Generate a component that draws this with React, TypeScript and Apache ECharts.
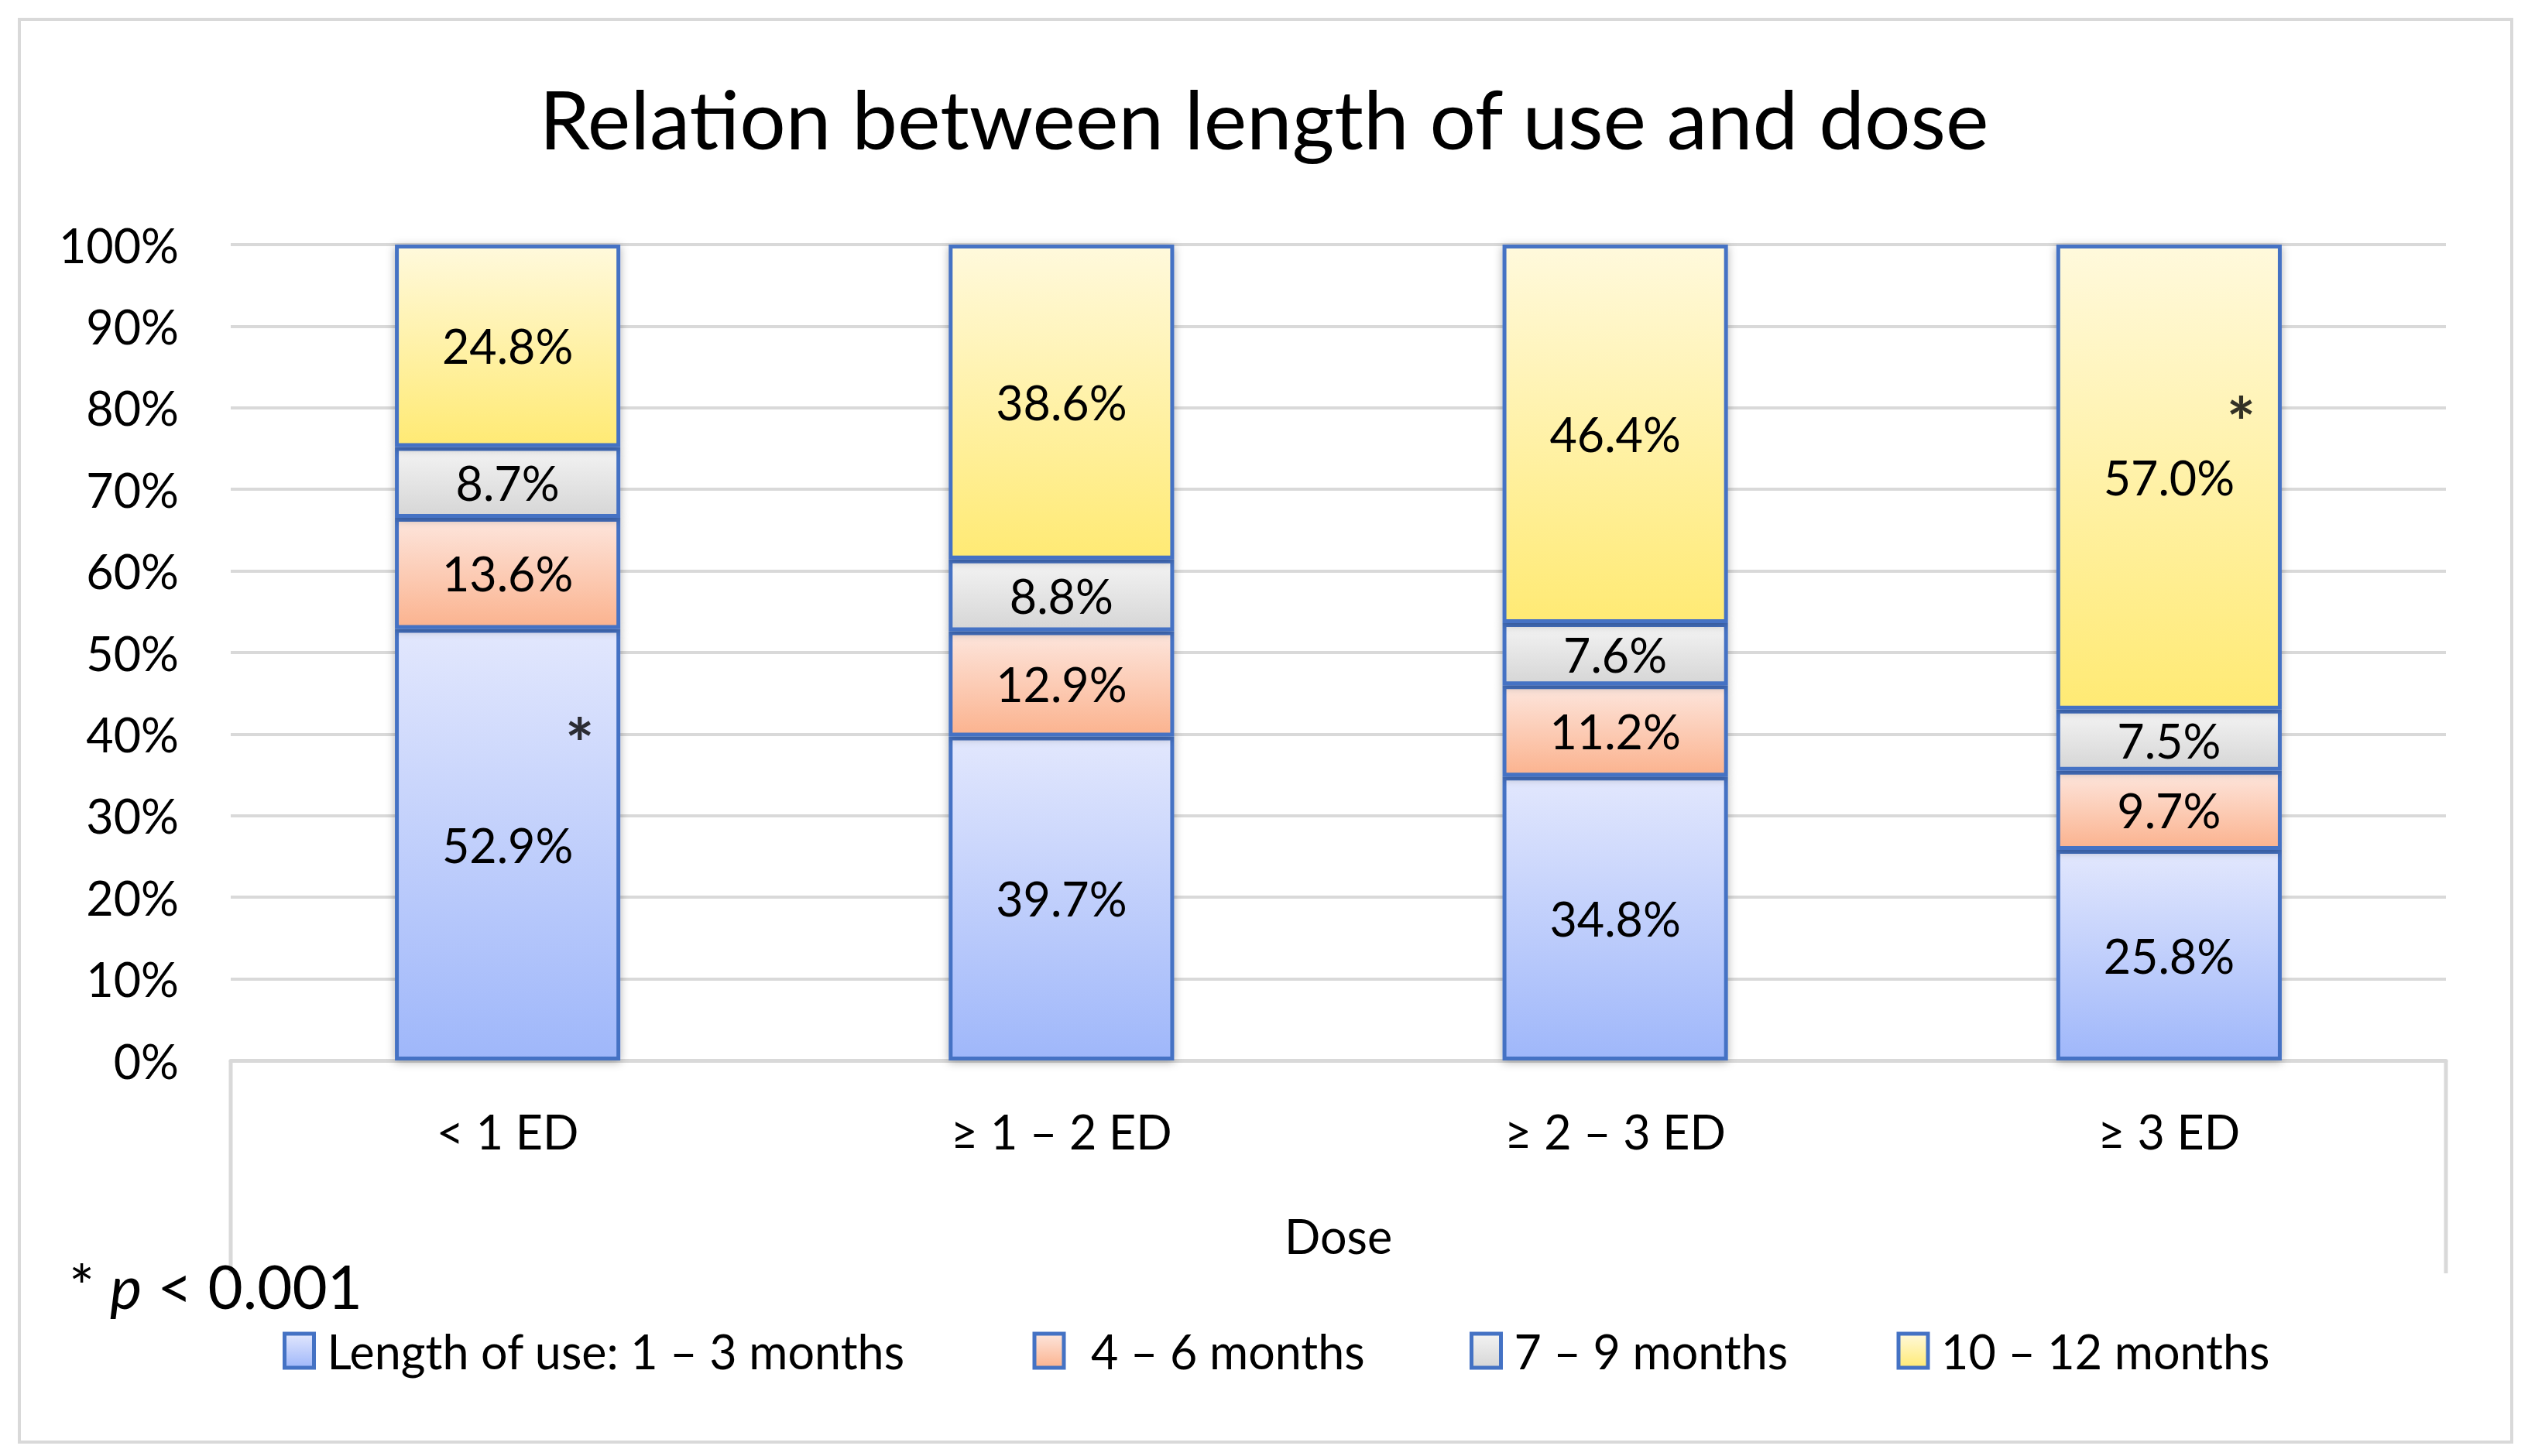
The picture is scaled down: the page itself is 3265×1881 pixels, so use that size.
import React, { useEffect, useRef } from 'react';
import * as echarts from 'echarts';

const categories = ['< 1 ED', '≥ 1 – 2 ED', '≥ 2 – 3 ED', '≥ 3 ED'];
const seriesNames = ['Length of use: 1 – 3 months', '4 – 6 months', '7 – 9 months', '10 – 12 months'];
const months1to3 = [52.9, 39.7, 34.8, 25.8];
const months4to6 = [13.6, 12.9, 11.2, 9.7];
const months7to9 = [8.7, 8.8, 7.6, 7.5];
const months10to12 = [24.8, 38.6, 46.4, 57.0];
const significanceMarks = [
  [0, 40.8],
  [3, 80.2],
];
const yMin = 0;
const yMax = 100;
const yInterval = 10;

const FONT = 'Lato, "Noto Sans", sans-serif';
const BORDER = '#4472c4';
const GRID = '#d9d9d9';

function grad(top: string, bottom: string) {
  return new echarts.graphic.LinearGradient(0, 0, 0, 1, [
    { offset: 0, color: top },
    { offset: 1, color: bottom },
  ]);
}

const fills = [
  ['#e2e7fd', '#9fb7fa'],
  ['#fde5dc', '#fbb38f'],
  ['#f3f3f3', '#d6d6d6'],
  ['#fff9dc', '#ffea74'],
];

const legendTextWidths = [791, 369, 374, undefined];
const legendPadLeft = [12, 30, 12, 12];

export default function App() {
  const ref = useRef<HTMLDivElement>(null);
  useEffect(() => {
    if (!ref.current) return;
    const chart = echarts.init(ref.current, null, { renderer: 'svg' });
    const values = [months1to3, months4to6, months7to9, months10to12];
    const barSeries = values.map((data, i) => ({
      name: seriesNames[i],
      type: 'bar',
      stack: 'total',
      barWidth: '40.7%',
      data,
      itemStyle: {
        color: grad(fills[i][0], fills[i][1]),
        borderColor: BORDER,
        borderWidth: 5,
        shadowBlur: 12,
        shadowColor: 'rgba(0,0,0,0.3)',
        shadowOffsetY: 2,
      },
      label: {
        show: true,
        position: 'inside',
        color: '#000',
        fontFamily: FONT,
        fontSize: 61,
        formatter: (p: any) => Number(p.value).toFixed(1) + '%',
      },
    }));
    chart.setOption({
      animation: false,
      backgroundColor: '#fff',
      title: [
        {
          text: 'Relation between length of use and dose',
          left: 'center',
          top: 92,
          textStyle: { fontFamily: FONT, fontSize: 105, fontWeight: 'normal', color: '#000', lineHeight: 110 },
        },
        {
          text: '{a|* }{b|p}{a| < 0.001}',
          left: 84,
          top: 1615,
          textStyle: {
            fontWeight: 'normal',
            rich: {
              a: { fontFamily: FONT, fontSize: 78, fontWeight: 'normal', color: '#000', lineHeight: 82 },
              b: { fontFamily: FONT, fontSize: 78, fontWeight: 'normal', color: '#000', fontStyle: 'italic', lineHeight: 82 },
            },
          },
        },
      ],
      legend: {
        data: seriesNames.map((n, i) => ({
          name: n,
          textStyle: {
            padding: [0, 0, 0, legendPadLeft[i]],
            ...(legendTextWidths[i] ? { width: legendTextWidths[i] } : {}),
          },
        })),
        left: 360,
        top: 1704,
        icon: 'rect',
        itemWidth: 38,
        itemHeight: 44,
        itemGap: 120,
        itemStyle: { shadowBlur: 0, borderWidth: 5, borderColor: BORDER },
        textStyle: { fontFamily: FONT, fontSize: 61, color: '#000', lineHeight: 72 },
      },
      grid: { left: 298, right: 106, top: 316, bottom: 511, containLabel: false },
      xAxis: {
        type: 'category',
        data: categories,
        name: 'Dose',
        nameLocation: 'middle',
        nameGap: 196,
        nameTextStyle: { fontFamily: FONT, fontSize: 61, color: '#000', lineHeight: 61 },
        axisLine: { lineStyle: { color: GRID, width: 5 } },
        axisTick: { show: false },
        axisLabel: { margin: 61, fontFamily: FONT, fontSize: 61, color: '#000', lineHeight: 61 },
      },
      yAxis: {
        type: 'value',
        min: yMin,
        max: yMax,
        interval: yInterval,
        axisLine: { show: false },
        axisTick: { show: false },
        splitLine: { lineStyle: { color: GRID, width: 4 } },
        axisLabel: { margin: 67, fontFamily: FONT, fontSize: 61, color: '#000', formatter: '{value}%' },
      },
      graphic: [
        {
          type: 'rect',
          z: -10,
          shape: { x: 25, y: 25, width: 3219, height: 1838 },
          style: { fill: 'none', stroke: GRID, lineWidth: 4 },
        },
        {
          type: 'line',
          shape: { x1: 298, y1: 1370, x2: 298, y2: 1645 },
          style: { stroke: GRID, lineWidth: 5 },
        },
        {
          type: 'line',
          shape: { x1: 3159, y1: 1370, x2: 3159, y2: 1645 },
          style: { stroke: GRID, lineWidth: 5 },
        },
      ],
      series: [
        ...barSeries,
        {
          name: 'significance',
          type: 'scatter',
          symbolSize: 0,
          silent: true,
          data: significanceMarks,
          z: 10,
          label: {
            show: true,
            formatter: '*',
            position: 'inside',
            offset: [93, 19],
            fontFamily: FONT,
            fontSize: 88,
            fontWeight: 'bold',
            color: '#000',
          },
        },
      ],
    });
    return () => chart.dispose();
  }, []);
  return (
    <div
      ref={ref}
      style={{ position: 'fixed', left: 0, top: 0, width: 3265, height: 1881, background: '#fff' }}
    />
  );
}
